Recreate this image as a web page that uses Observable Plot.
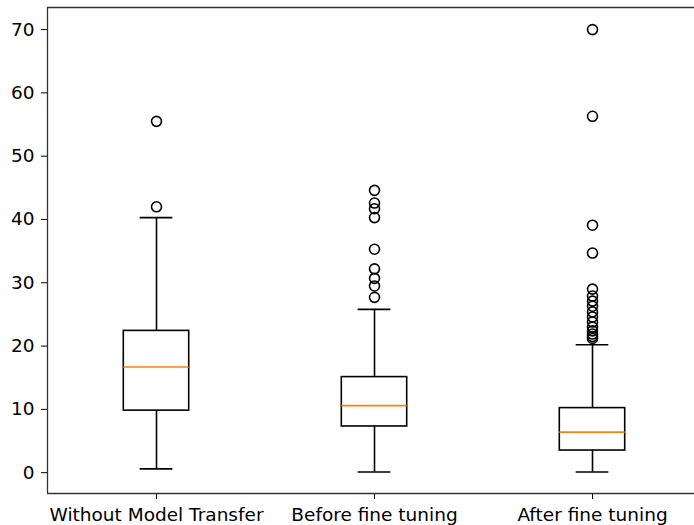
<!DOCTYPE html>
<html>
<head>
<meta charset="utf-8">
<script src="https://cdn.jsdelivr.net/npm/d3@7"></script>
<script src="https://cdn.jsdelivr.net/npm/@observablehq/plot@0.6"></script>
<style>
  html, body { margin: 0; padding: 0; background: #fff; overflow: hidden; }
  #chart { width: 694px; height: 525px; overflow: hidden; }
  #chart svg { display: block; }
</style>
</head>
<body>
<div id="chart"></div>
<script>
const categories = ["Without Model Transfer", "Before fine tuning", "After fine tuning"];
const q1 = [9.8, 7.3, 3.5];
const median = [16.7, 10.6, 6.4];
const q3 = [22.4, 15.1, 10.2];
const whiskerLow = [0.6, 0.1, 0.1];
const whiskerHigh = [40.3, 25.8, 20.2];
const outliersWithout = [55.5, 42.0];
const outliersBefore = [44.6, 42.6, 41.7, 40.3, 35.3, 32.2, 30.7, 29.5, 27.7];
const outliersAfter = [70.0, 56.3, 39.1, 34.7, 29.0, 27.9, 27.1, 26.3, 25.4, 24.6, 23.8, 23.0, 22.4, 21.9, 21.5, 21.2];
const yTicks = [0, 10, 20, 30, 40, 50, 60, 70];
const yDomain = [-3.29, 73.49];
const xDomain = [0.5, 3.5];

const boxes = categories.map((c, i) => ({
  pos: i + 1, q1: q1[i], median: median[i], q3: q3[i], lo: whiskerLow[i], hi: whiskerHigh[i]
}));
const outlierLists = [outliersWithout, outliersBefore, outliersAfter];
const outliers = outlierLists.flatMap((arr, i) => arr.map(v => ({pos: i + 1, v})));

const boxW = 0.3, capW = 0.15;
const stroke = "#000";
const sw = 1.6;

const chart = Plot.plot({
  width: 694,
  height: 525,
  marginLeft: 47,
  marginRight: -7,
  marginTop: 7,
  marginBottom: 32,
  style: {fontFamily: "DejaVu Sans", fontSize: "18.5px", color: "#000", background: "#fff"},
  x: {domain: xDomain, ticks: [1, 2, 3], tickFormat: d => categories[d - 1], tickSize: 6, tickPadding: 8, label: null},
  y: {domain: yDomain, ticks: yTicks, tickSize: 6, tickPadding: 7, label: null, tickFormat: d => String(d)},
  marks: [
    Plot.ruleX(boxes, {x: "pos", y1: "q3", y2: "hi", stroke, strokeWidth: sw}),
    Plot.ruleX(boxes, {x: "pos", y1: "lo", y2: "q1", stroke, strokeWidth: sw}),
    Plot.ruleY(boxes, {y: "hi", x1: d => d.pos - capW / 2, x2: d => d.pos + capW / 2, stroke, strokeWidth: sw}),
    Plot.ruleY(boxes, {y: "lo", x1: d => d.pos - capW / 2, x2: d => d.pos + capW / 2, stroke, strokeWidth: sw}),
    Plot.rect(boxes, {x1: d => d.pos - boxW / 2, x2: d => d.pos + boxW / 2, y1: "q1", y2: "q3", fill: "none", stroke, strokeWidth: sw}),
    Plot.ruleY(boxes, {y: "median", x1: d => d.pos - boxW / 2, x2: d => d.pos + boxW / 2, stroke: "#ff7f0e", strokeWidth: sw}),
    Plot.dot(outliers, {x: "pos", y: "v", r: 5, fill: "none", stroke, strokeWidth: sw}),
    // spines (left, top, bottom); the right spine lies outside the picture
    Plot.ruleX([xDomain[0]], {stroke: "#333", strokeWidth: 1.3}),
    Plot.ruleY([yDomain[1]], {stroke: "#333", strokeWidth: 1.3}),
    Plot.ruleY([yDomain[0]], {stroke: "#333", strokeWidth: 1.3})
  ]
});
document.getElementById("chart").appendChild(chart);
</script>
</body>
</html>
